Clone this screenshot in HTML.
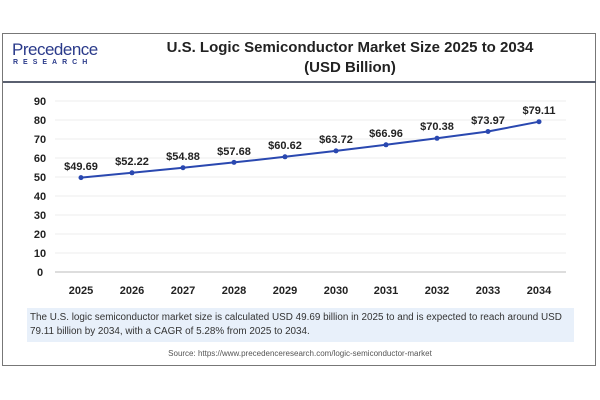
<!DOCTYPE html><html><head><style>
body{margin:0;width:600px;height:400px;background:#fff;font-family:"Liberation Sans",sans-serif;position:relative;overflow:hidden}
.frame{position:absolute;left:2px;top:33px;width:594px;height:333px;border:1px solid #777;box-sizing:border-box}
</style></head><body>
<div class="frame"></div>
<div style="position:absolute;left:3px;top:81px;width:593px;height:2px;background:#5a6070"></div>
<div style="position:absolute;left:12px;top:40px;font-size:17px;color:#2a3a8a;letter-spacing:-0.5px">Precedence</div>
<div style="position:absolute;left:13px;top:59px;font-size:7px;color:#2a3a8a;letter-spacing:5px;font-weight:bold">RESEARCH</div>
<div style="position:absolute;left:120px;top:38px;width:460px;text-align:center;font-size:15px;font-weight:bold;color:#222;line-height:20px">U.S. Logic Semiconductor Market Size 2025 to 2034<br>(USD Billion)</div>
<svg width="600" height="400" style="position:absolute;left:0;top:0" font-family="Liberation Sans" font-weight="bold">
<g stroke="#eee" stroke-width="1">
<line x1="55" x2="566" y1="101" y2="101"/><line x1="55" x2="566" y1="120" y2="120"/><line x1="55" x2="566" y1="139" y2="139"/><line x1="55" x2="566" y1="158" y2="158"/><line x1="55" x2="566" y1="177" y2="177"/><line x1="55" x2="566" y1="196" y2="196"/><line x1="55" x2="566" y1="215" y2="215"/><line x1="55" x2="566" y1="234" y2="234"/><line x1="55" x2="566" y1="253" y2="253"/></g>
<line x1="55" x2="566" y1="272" y2="272" stroke="#bbb"/>
<g font-size="11" fill="#222" text-anchor="middle">
<text x="40" y="105">90</text><text x="40" y="124">80</text><text x="40" y="143">70</text><text x="40" y="162">60</text><text x="40" y="181">50</text><text x="40" y="200">40</text><text x="40" y="219">30</text><text x="40" y="238">20</text><text x="40" y="257">10</text><text x="40" y="276">0</text>
<text x="81" y="294">2025</text><text x="132" y="294">2026</text><text x="183" y="294">2027</text><text x="234" y="294">2028</text><text x="285" y="294">2029</text><text x="336" y="294">2030</text><text x="386" y="294">2031</text><text x="437" y="294">2032</text><text x="488" y="294">2033</text><text x="539" y="294">2034</text>
</g>
<polyline fill="none" stroke="#2a48b0" stroke-width="2" points="81,177.6 132,172.8 183,167.7 234,162.4 285,156.8 336,150.9 386,144.8 437,138.3 488,131.5 539,121.7"/>
<g fill="#2a48b0"><circle cx="81" cy="177.6" r="2.5"/><circle cx="132" cy="172.8" r="2.5"/><circle cx="183" cy="167.7" r="2.5"/><circle cx="234" cy="162.4" r="2.5"/><circle cx="285" cy="156.8" r="2.5"/><circle cx="336" cy="150.9" r="2.5"/><circle cx="386" cy="144.8" r="2.5"/><circle cx="437" cy="138.3" r="2.5"/><circle cx="488" cy="131.5" r="2.5"/><circle cx="539" cy="121.7" r="2.5"/></g>
<g font-size="11" fill="#222" text-anchor="middle">
<text x="81" y="170">$49.69</text><text x="132" y="165">$52.22</text><text x="183" y="160">$54.88</text><text x="234" y="155">$57.68</text><text x="285" y="149">$60.62</text><text x="336" y="143">$63.72</text><text x="386" y="137">$66.96</text><text x="437" y="130">$70.38</text><text x="488" y="124">$73.97</text><text x="539" y="114">$79.11</text>
</g></svg>
<div style="position:absolute;left:27px;top:308px;width:547px;height:34px;background:#e8f0fa"></div>
<div style="position:absolute;left:30px;top:311px;width:545px;font-size:9.9px;line-height:14px;color:#333;white-space:nowrap">The U.S. logic semiconductor market size is calculated USD 49.69 billion in 2025 to and is expected to reach around USD<br>79.11 billion by 2034, with a CAGR of 5.28% from 2025 to 2034.</div>
<div style="position:absolute;left:0;top:349px;width:600px;text-align:center;font-size:8px;color:#555">Source: https://www.precedenceresearch.com/logic-semiconductor-market</div>
</body></html>
